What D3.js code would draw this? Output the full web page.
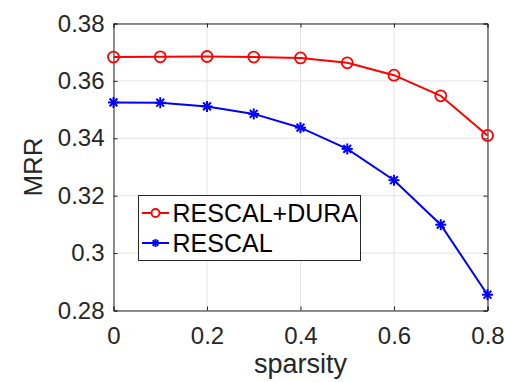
<!DOCTYPE html>
<html>
<head>
<meta charset="utf-8">
<script src="https://cdn.jsdelivr.net/npm/d3@7"></script>
<style>
  body { margin: 0; background: #fff; }
  text { font-family: "Liberation Sans", Arial, sans-serif; }
</style>
</head>
<body>
<div id="container"></div>
<script>
let sparsity = [0, 0.1, 0.2, 0.3, 0.4, 0.5, 0.6, 0.7, 0.8];
let durascores = [0.3683, 0.3684, 0.3685, 0.3683, 0.3680, 0.3663, 0.3620, 0.3548, 0.3410];
let rescalscores = [0.3525, 0.3524, 0.3511, 0.3485, 0.3437, 0.3363, 0.3254, 0.3099, 0.2855];
let xticks = [0, 0.2, 0.4, 0.6, 0.8];
let yticks = [0.28, 0.3, 0.32, 0.34, 0.36, 0.38];
let seriesNames = ["RESCAL+DURA", "RESCAL"];

let W = 505, H = 382;
let mLeft = 113.5, mRight = 487.5, mTop = 23.5, mBottom = 310.5;

let svg = d3.select("#container").append("svg")
    .attr("width", W).attr("height", H);

let x = d3.scaleLinear().domain([0, 0.8]).range([mLeft, mRight]);
let y = d3.scaleLinear().domain([0.28, 0.38]).range([mBottom, mTop]);

// grid
svg.append("g").selectAll("line").data(xticks).enter().append("line")
    .attr("x1", d => x(d)).attr("x2", d => x(d))
    .attr("y1", mTop).attr("y2", mBottom)
    .attr("stroke", "#e3e3e3").attr("stroke-width", 1);
svg.append("g").selectAll("line").data(yticks).enter().append("line")
    .attr("x1", mLeft).attr("x2", mRight)
    .attr("y1", d => y(d)).attr("y2", d => y(d))
    .attr("stroke", "#e3e3e3").attr("stroke-width", 1);

// axes (matlab box style)
let fmt = d => d3.format("")(+d.toFixed(2));
let axB = svg.append("g").attr("transform", `translate(0,${mBottom})`)
    .call(d3.axisBottom(x).tickValues(xticks).tickSize(-4).tickPadding(16).tickFormat(fmt));
let axT = svg.append("g").attr("transform", `translate(0,${mTop})`)
    .call(d3.axisTop(x).tickValues(xticks).tickSize(-4).tickFormat(""));
let axL = svg.append("g").attr("transform", `translate(${mLeft},0)`)
    .call(d3.axisLeft(y).tickValues(yticks).tickSize(-4).tickPadding(9).tickFormat(fmt));
let axR = svg.append("g").attr("transform", `translate(${mRight},0)`)
    .call(d3.axisRight(y).tickValues(yticks).tickSize(-4).tickFormat(""));
[axB, axT, axL, axR].forEach(a => {
    a.selectAll("path").attr("stroke", "#262626").attr("stroke-width", 1);
    a.selectAll("line").attr("stroke", "#262626");
    a.selectAll("text").attr("fill", "#262626")
        .style("font-size", "24px").style("font-family", "'Liberation Sans', Arial, sans-serif");
});

// axis labels
svg.append("text").attr("x", (mLeft + mRight) / 2).attr("y", 373)
    .attr("text-anchor", "middle").attr("fill", "#262626")
    .style("font-size", "27px").text("sparsity");
svg.append("text")
    .attr("transform", `translate(42,${(mTop + mBottom) / 2}) rotate(-90)`)
    .attr("text-anchor", "middle").attr("fill", "#262626")
    .style("font-size", "26px").text("MRR");

let line = d3.line().x((d, i) => x(sparsity[i])).y(d => y(d));

// RESCAL+DURA
svg.append("path").datum(durascores).attr("d", line)
    .attr("fill", "none").attr("stroke", "#ff0000").attr("stroke-width", 2);
svg.append("g").selectAll("circle").data(durascores).enter().append("circle")
    .attr("cx", (d, i) => x(sparsity[i])).attr("cy", d => y(d)).attr("r", 5.5)
    .attr("fill", "none").attr("stroke", "#ff0000").attr("stroke-width", 1.8);

// RESCAL
function star(g, cx, cy, r, color) {
    for (let k = 0; k < 4; k++) {
        let a = k * Math.PI / 4;
        g.append("line")
            .attr("x1", cx - r * Math.cos(a)).attr("y1", cy - r * Math.sin(a))
            .attr("x2", cx + r * Math.cos(a)).attr("y2", cy + r * Math.sin(a))
            .attr("stroke", color).attr("stroke-width", 2);
    }
}
svg.append("path").datum(rescalscores).attr("d", line)
    .attr("fill", "none").attr("stroke", "#0000ff").attr("stroke-width", 2);
let stars = svg.append("g");
rescalscores.forEach((d, i) => star(stars, x(sparsity[i]), y(d), 5.5, "#0000ff"));

// legend
let lg = svg.append("g");
lg.append("rect").attr("x", 138.5).attr("y", 195.5).attr("width", 222).attr("height", 65)
    .attr("fill", "#fff").attr("stroke", "#262626").attr("stroke-width", 1);
let legendColors = ["#ff0000", "#0000ff"];
seriesNames.forEach((name, i) => {
    let cy = 213 + i * 30;
    lg.append("line").attr("x1", 142).attr("x2", 169).attr("y1", cy).attr("y2", cy)
        .attr("stroke", legendColors[i]).attr("stroke-width", 2);
    if (i === 0) {
        lg.append("circle").attr("cx", 155.5).attr("cy", cy).attr("r", 4)
            .attr("fill", "#fff").attr("stroke", legendColors[i]).attr("stroke-width", 1.8);
    } else {
        star(lg, 155.5, cy, 4, legendColors[i]);
    }
    lg.append("text").attr("x", 172.5).attr("y", cy + 9)
        .attr("fill", "#000").style("font-size", "25px").text(name);
});
</script>
</body>
</html>
